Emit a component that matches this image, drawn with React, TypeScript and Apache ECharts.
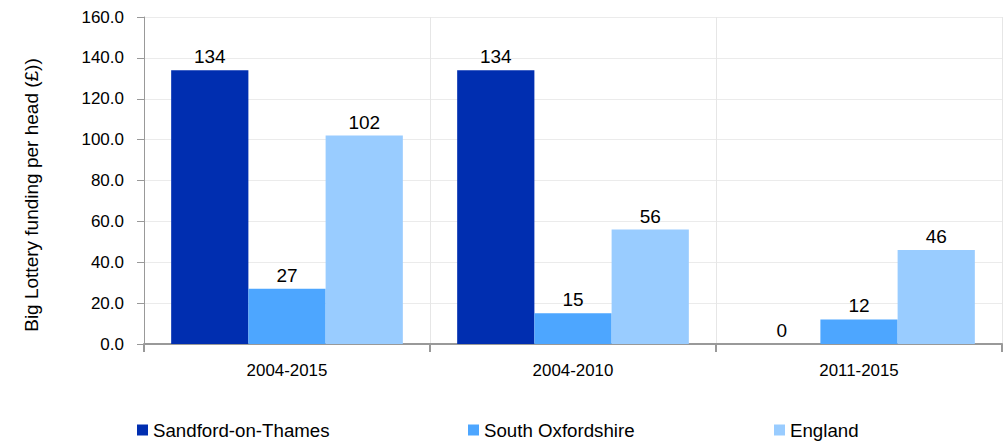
import React, { useEffect, useRef } from "react";
import * as echarts from "echarts";

const categories = ["2004-2015", "2004-2010", "2011-2015"];
const seriesNames = ["Sandford-on-Thames", "South Oxfordshire", "England"];
const sandford = [134, 134, 0];
const southOxon = [27, 15, 12];
const england = [102, 56, 46];
const yTitle = "Big Lottery funding per head (£))";
const colors = ["#002EB0", "#4DA6FF", "#99CCFF"];

export default function App() {
  const ref = useRef<HTMLDivElement>(null);
  useEffect(() => {
    const chart = echarts.init(ref.current!, undefined, { renderer: "svg" });
    const font = "Liberation Sans, Arial, sans-serif";
    const values = [sandford, southOxon, england];
    chart.setOption({
      animation: false,
      textStyle: { fontFamily: font },
      grid: { left: 144, right: 1, top: 17, bottom: 97, containLabel: false },
      legend: [
        { data: [seriesNames[0]], left: 132, top: 415 },
        { data: [seriesNames[1]], left: 463, top: 415 },
        { data: [seriesNames[2]], left: 769, top: 415 },
      ].map((l) => ({
        ...l,
        itemWidth: 11,
        itemHeight: 11,
        icon: "rect",
        itemGap: 0,
        textStyle: { fontSize: 18.7, lineHeight: 20, color: "#000", fontFamily: font },
      })),
      graphic: [
        {
          type: "text",
          x: 31,
          y: 195,
          rotation: Math.PI / 2,
          style: {
            text: yTitle,
            fontSize: 19,
            fontFamily: font,
            fill: "#000",
            textAlign: "center",
            textVerticalAlign: "middle",
          },
        },
      ],
      xAxis: {
        type: "category",
        data: categories,
        axisLine: { show: true, lineStyle: { color: "#999", width: 2 } },
        axisTick: { show: true, length: 8, lineStyle: { color: "#999", width: 2 } },
        axisLabel: { fontSize: 16.9, color: "#000", margin: 18, fontFamily: font },
        splitLine: { show: true, lineStyle: { color: "#e6e6e6", width: 1 } },
      },
      yAxis: {
        type: "value",
        min: 0,
        max: 160,
        interval: 20,
        axisLine: { show: true, lineStyle: { color: "#999", width: 1 } },
        axisTick: { show: true, length: 7, lineStyle: { color: "#999" } },
        axisLabel: {
          fontSize: 17,
          color: "#000",
          margin: 20,
          fontFamily: font,
          formatter: (v: number) => v.toFixed(1),
        },
        splitLine: { show: true, lineStyle: { color: "#ebebeb", width: 1 } },
      },
      series: seriesNames.map((name, i) => ({
        name,
        type: "bar",
        data: values[i],
        barGap: "0%",
        barCategoryGap: "19%",
        itemStyle: { color: colors[i] },
        label: {
          show: true,
          position: "top",
          distance: 4,
          fontSize: 19,
          color: "#000",
          fontFamily: font,
        },
      })),
    });
    return () => chart.dispose();
  }, []);
  return (
    <div
      ref={ref}
      style={{ position: "fixed", left: 0, top: 0, width: 1003, height: 441, background: "#fff" }}
    />
  );
}
